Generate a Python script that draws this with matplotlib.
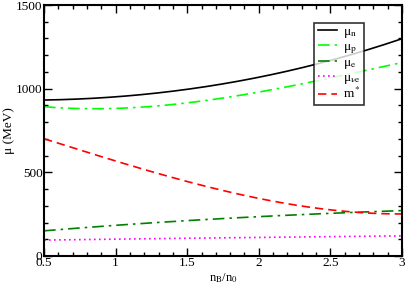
import numpy as np
import matplotlib
matplotlib.use('Agg')
import matplotlib.pyplot as plt

plt.rcParams['font.family'] = 'Liberation Serif'
plt.rcParams['mathtext.fontset'] = 'stix'

nb = [0.5, 1.0, 1.5, 2.0, 2.5, 3.0]
mu_n = [934, 946, 998, 1075, 1161, 1301]
mu_p = [892, 883, 914, 980, 1064, 1156]
mu_e = [150, 185, 210, 235, 256, 271]
mu_nue = [95, 101, 106, 111, 116, 120]
m_star = [700, 570, 445, 340, 280, 250]

# smooth curves through the read-off points
xs = np.linspace(0.5, 3.0, 200)
def smooth(y):
    c = np.polyfit(nb, y, 3)
    return np.polyval(c, xs)

fig = plt.figure(figsize=(4.07, 2.87), dpi=100)
ax = fig.add_axes([44/407, 31/287, 358/407, 251/287])

ax.plot(xs, smooth(mu_n), color='black', lw=1.2, label='μ$_\\mathrm{n}$')
ax.plot(xs, smooth(mu_p), color='#00ff00', lw=1.2, dashes=[7, 3, 1.5, 3], label='μ$_\\mathrm{p}$')
ax.plot(xs, smooth(mu_e), color='#008000', lw=1.2, dashes=[7, 3, 1.5, 3], label='μ$_\\mathrm{e}$')
ax.plot(xs, smooth(mu_nue), color='#ff00ff', lw=1.2, dashes=[1, 2], label='μ$_\\mathrm{\\nu e}$')
ax.plot(xs, smooth(m_star), color='#ff0000', lw=1.2, dashes=[5, 3], label='m$^*$')

ax.set_xlim(0.5, 3)
ax.set_ylim(0, 1500)
ax.set_xticks([0.5, 1, 1.5, 2, 2.5, 3])
ax.set_xticklabels(['0.5', '1', '1.5', '2', '2.5', '3'])
ax.set_yticks([0, 500, 1000, 1500])
ax.set_xticks(np.arange(0.5, 3.01, 0.1), minor=True)
ax.set_yticks(np.arange(0, 1501, 100), minor=True)
ax.tick_params(which='both', direction='in', top=True, right=True, labelsize=9.5, width=1)
ax.tick_params(which='major', length=6, pad=1)
ax.tick_params(which='minor', length=3)
for s in ax.spines.values():
    s.set_linewidth(1.5)

ax.set_xlabel('n$_\\mathrm{B}$/n$_\\mathrm{0}$', fontsize=9)
ax.xaxis.set_label_coords(0.5, -0.062)
ax.set_ylabel('μ (MeV)', fontsize=9.5)
ax.yaxis.set_label_coords(-0.08, 0.5)

leg = ax.legend(loc='upper left', bbox_to_anchor=(0.755, 0.93), fontsize=9.5,
                handlelength=1.5, handletextpad=0.4, labelspacing=0.05,
                borderpad=0.25, borderaxespad=0, frameon=True, fancybox=False)
leg.get_frame().set_edgecolor('black')
leg.get_frame().set_linewidth(1.2)

fig.savefig('out.png', dpi=100)
